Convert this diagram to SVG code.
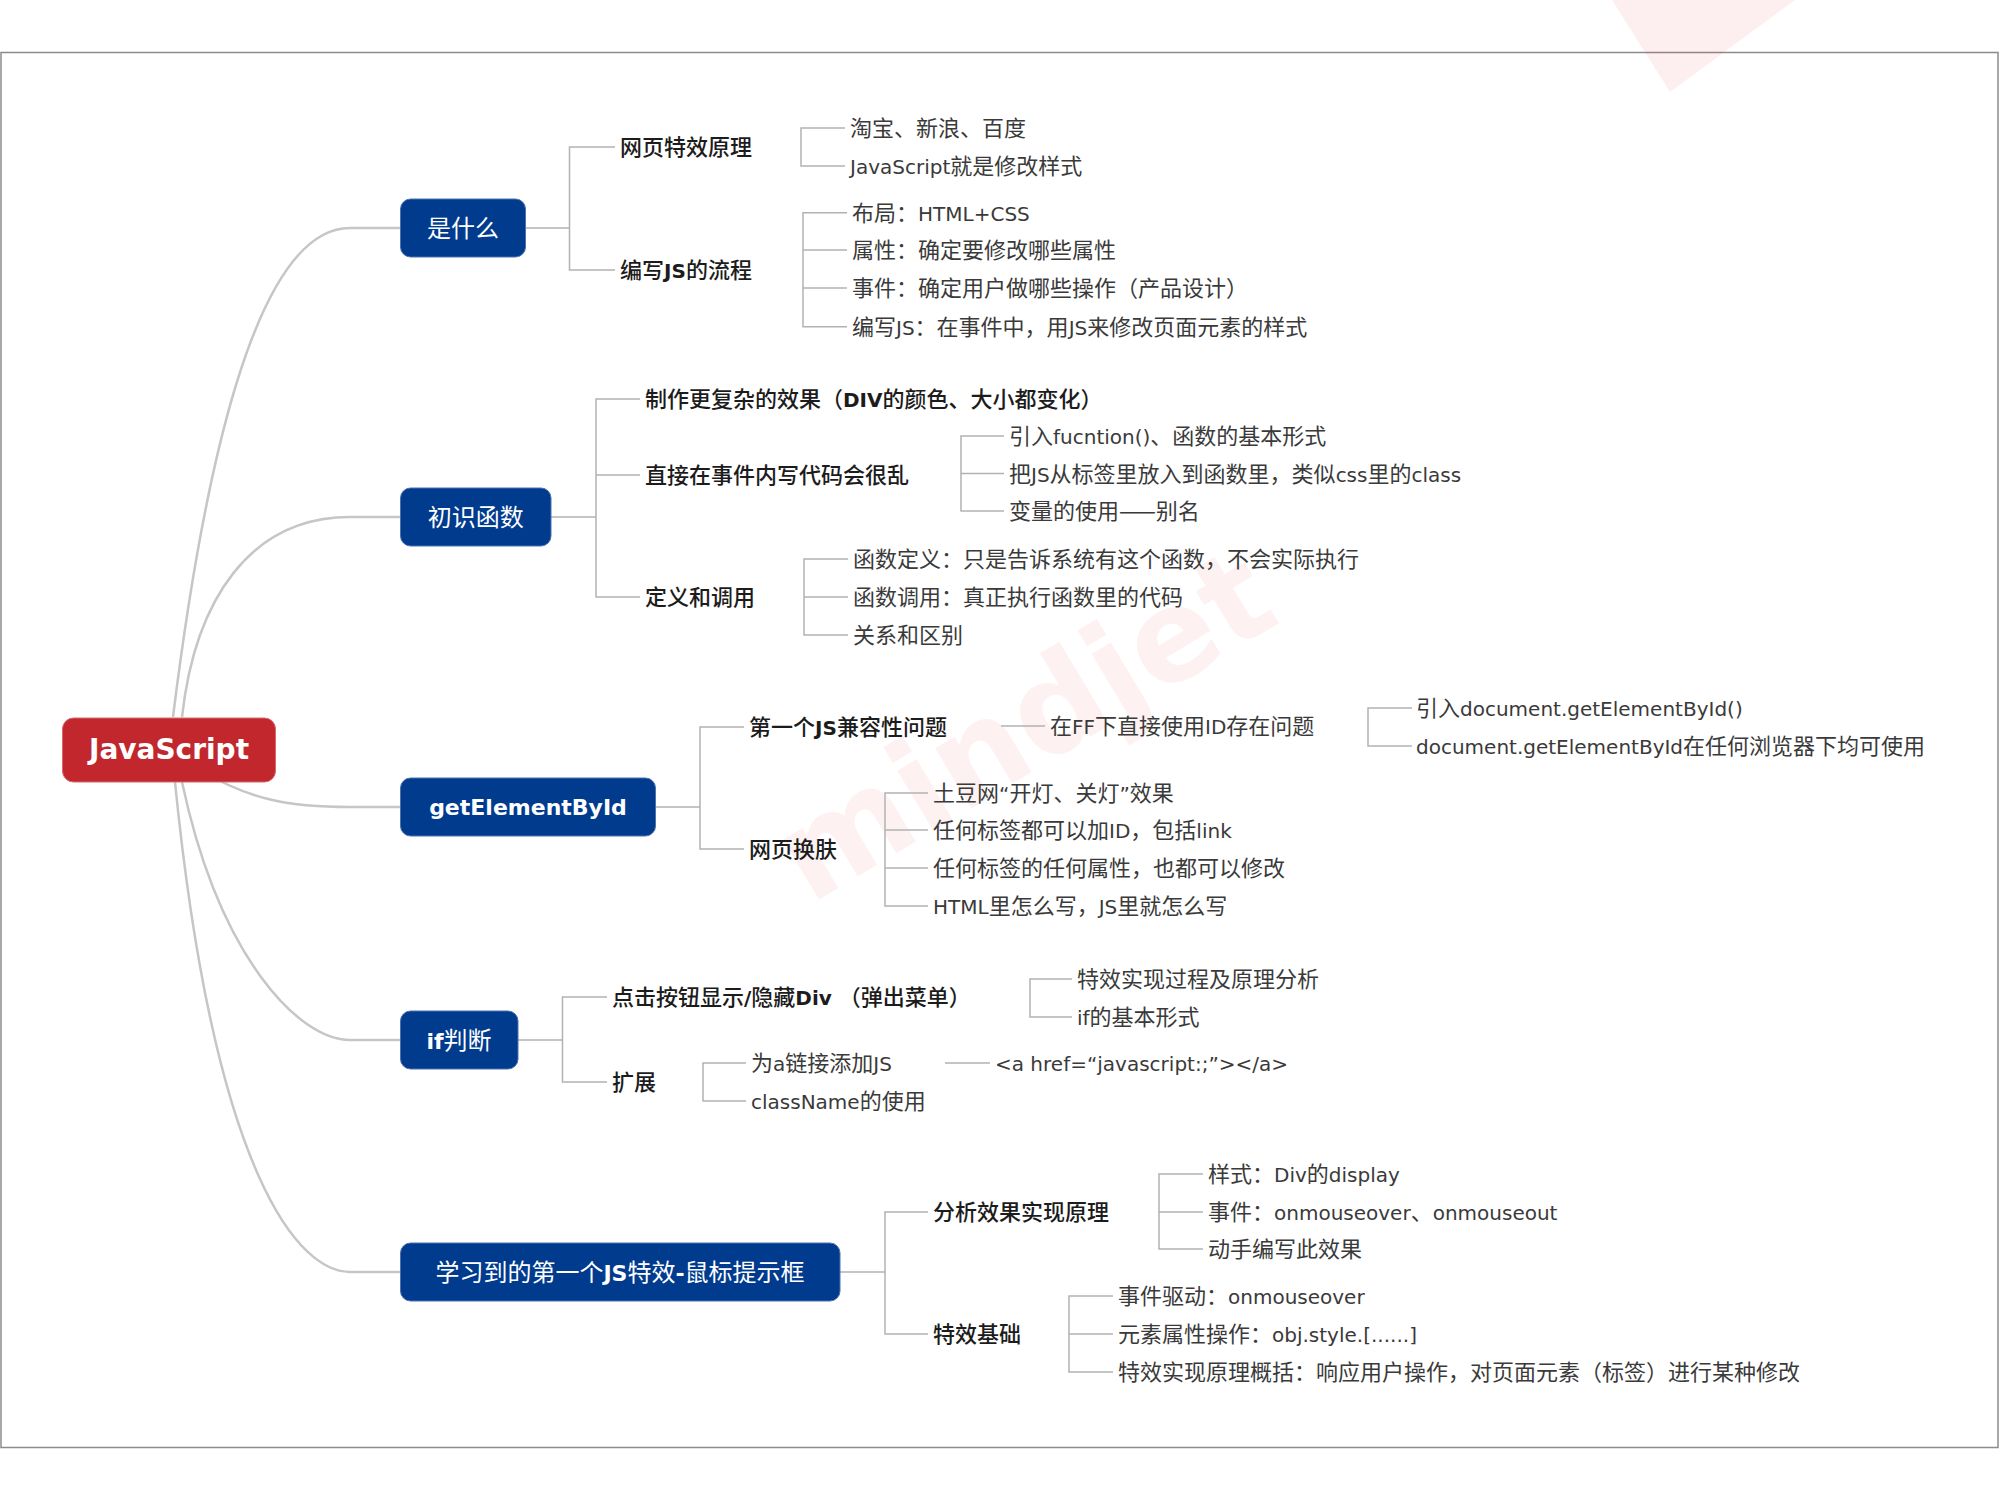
<svg xmlns="http://www.w3.org/2000/svg" width="2000" height="1500" viewBox="0 0 2000 1500">
<style>
.frame{fill:#ffffff;stroke:#8c8c8c;stroke-width:1.5}
.box{fill:#003B8E;stroke:#4d72b0;stroke-width:1}
.root{fill:#C1272D;stroke:#d86a6e;stroke-width:1}
.nt{font-family:"Noto Sans CJK SC",sans-serif;font-size:24px;fill:#ffffff;text-anchor:middle}
.nl{font-family:"DejaVu Sans",sans-serif;font-size:22px;font-weight:bold}
.rt{font-family:"DejaVu Sans",sans-serif;font-size:28px;font-weight:bold;fill:#ffffff;text-anchor:middle}
.t2{font-family:"Noto Sans CJK SC",sans-serif;font-size:22px;font-weight:500;fill:#1c1c1c}
.t3{font-family:"Noto Sans CJK SC",sans-serif;font-size:22px;fill:#3a3a3a}
.l{font-family:"DejaVu Sans",sans-serif;font-size:20px;font-weight:normal}
.lb{font-family:"DejaVu Sans",sans-serif;font-size:20px;font-weight:bold}
.curve{fill:none;stroke:#c6c6c6;stroke-width:2.5}
.br{fill:none;stroke:#b2b2b2;stroke-width:1.5}
.wm{font-family:"DejaVu Sans",sans-serif;font-weight:bold;fill:#e8232a;opacity:0.06}
</style>
<rect x="0" y="0" width="2000" height="1500" fill="#ffffff"/>
<rect class="frame" x="1" y="52.5" width="1997" height="1395"/>
<polygon points="1612,0 1795,0 1670,92" fill="#e8232a" opacity="0.07"/>
<text class="wm" font-size="128" transform="translate(810,905) rotate(-31)">mindjet</text>

<g id="connectors">
  <path class="curve" d="M173 717 C200 500 250 228 350 228 H400"/>
  <path class="curve" d="M182 717 C195 600 250 517 350 517 H400"/>
  <path class="curve" d="M200 770 C250 800 290 807 350 807 H400"/>
  <path class="curve" d="M182 782 C220 960 300 1040 350 1040 H400"/>
  <path class="curve" d="M175 782 C215 1180 300 1272 350 1272 H400"/>

  <path class="br" d="M525.5 228 H569.5 M615 147 H569.5 V270 H615"/>
  <path class="br" d="M845 128 H801 V166 H845"/>
  <path class="br" d="M847 212.7 H803 V326.7 H847 M803 250 H847 M803 288 H847"/>

  <path class="br" d="M551 517 H596 M640 399 H596 V597 H640 M596 475 H640"/>
  <path class="br" d="M1004 436 H961 V511 H1004 M961 473.5 H1004"/>
  <path class="br" d="M848 559 H804 V635 H848 M804 597 H848"/>

  <path class="br" d="M655.6 807 H700 M744 727 H700 V849 H744"/>
  <path class="br" d="M1001 726 H1045"/>
  <path class="br" d="M1412 708 H1368 V746 H1412"/>
  <path class="br" d="M928 793 H885 V906 H928 M885 830 H928 M885 868 H928"/>

  <path class="br" d="M518 1040 H562.5 M607 997 H562.5 V1082 H607"/>
  <path class="br" d="M1072 979 H1030 V1017 H1072"/>
  <path class="br" d="M746 1063 H703 V1101 H746"/>
  <path class="br" d="M945 1063 H990"/>

  <path class="br" d="M840 1272 H885 M928 1212 H885 V1334 H928"/>
  <path class="br" d="M1203 1174 H1159 V1249 H1203 M1159 1212 H1203"/>
  <path class="br" d="M1113 1296 H1069 V1372 H1113 M1069 1334 H1113"/>
</g>

<g id="node-root">
  <rect class="root" x="62.5" y="718" width="213" height="64" rx="11"/>
  <text class="rt" x="169" y="759">JavaScript</text>
</g>

<g id="node-shishenme">
  <rect class="box" x="400.5" y="199" width="125" height="58" rx="10"/>
  <text class="nt" x="463" y="237">是什么</text>
</g>
<g id="node-wangye-texiao">
  <text class="t2" x="620" y="155">网页特效原理</text>
</g>
<g id="node-bianxie-liucheng">
  <text class="t2" x="620" y="278">编写<tspan class="lb">JS</tspan>的流程</text>
</g>
<g id="node-taobao"><text class="t3" x="850" y="136">淘宝、新浪、百度</text></g>
<g id="node-xiugai"><text class="t3" x="850" y="174"><tspan class="l">JavaScript</tspan>就是修改样式</text></g>
<g id="node-buju"><text class="t3" x="852" y="220.7">布局：<tspan class="l">HTML+CSS</tspan></text></g>
<g id="node-shuxing"><text class="t3" x="852" y="258">属性：确定要修改哪些属性</text></g>
<g id="node-shijian"><text class="t3" x="852" y="296">事件：确定用户做哪些操作（产品设计）</text></g>
<g id="node-bianxiejs"><text class="t3" x="852" y="334.7">编写<tspan class="l">JS</tspan>：在事件中，用<tspan class="l">JS</tspan>来修改页面元素的样式</text></g>

<g id="node-chushi-hanshu">
  <rect class="box" x="400.5" y="488" width="150.5" height="58" rx="10"/>
  <text class="nt" x="475.7" y="526">初识函数</text>
</g>
<g id="node-zhizuo"><text class="t2" x="645" y="407">制作更复杂的效果（<tspan class="lb">DIV</tspan>的颜色、大小都变化）</text></g>
<g id="node-zhijie"><text class="t2" x="645" y="483">直接在事件内写代码会很乱</text></g>
<g id="node-dingyi-diaoyong"><text class="t2" x="645" y="605">定义和调用</text></g>
<g id="node-yinru-function"><text class="t3" x="1009" y="444">引入<tspan class="l">fucntion()</tspan>、函数的基本形式</text></g>
<g id="node-ba-js"><text class="t3" x="1009" y="481.5">把<tspan class="l">JS</tspan>从标签里放入到函数里，类似<tspan class="l">css</tspan>里的<tspan class="l">class</tspan></text></g>
<g id="node-bianliang"><text class="t3" x="1009" y="519">变量的使用——别名</text></g>
<g id="node-hanshu-dingyi"><text class="t3" x="853" y="567">函数定义：只是告诉系统有这个函数，不会实际执行</text></g>
<g id="node-hanshu-diaoyong"><text class="t3" x="853" y="605">函数调用：真正执行函数里的代码</text></g>
<g id="node-guanxi"><text class="t3" x="853" y="643">关系和区别</text></g>

<g id="node-getelementbyid">
  <rect class="box" x="400.5" y="778" width="255" height="58" rx="10"/>
  <text class="nt" x="528" y="815"><tspan class="nl">getElementById</tspan></text>
</g>
<g id="node-jianrong"><text class="t2" x="749" y="735">第一个<tspan class="lb">JS</tspan>兼容性问题</text></g>
<g id="node-huanfu"><text class="t2" x="749" y="857">网页换肤</text></g>
<g id="node-ff"><text class="t3" x="1050" y="734">在<tspan class="l">FF</tspan>下直接使用<tspan class="l">ID</tspan>存在问题</text></g>
<g id="node-yinru-doc"><text class="t3" x="1416" y="716">引入<tspan class="l">document.getElementById()</tspan></text></g>
<g id="node-doc-any"><text class="t3" x="1416" y="754"><tspan class="l">document.getElementById</tspan>在任何浏览器下均可使用</text></g>
<g id="node-tudou"><text class="t3" x="933" y="801">土豆网<tspan class="l">“</tspan>开灯、关灯<tspan class="l">”</tspan>效果</text></g>
<g id="node-renhe-id"><text class="t3" x="933" y="838">任何标签都可以加<tspan class="l">ID</tspan>，包括<tspan class="l">link</tspan></text></g>
<g id="node-renhe-shuxing"><text class="t3" x="933" y="876">任何标签的任何属性，也都可以修改</text></g>
<g id="node-html-js"><text class="t3" x="933" y="914"><tspan class="l">HTML</tspan>里怎么写，<tspan class="l">JS</tspan>里就怎么写</text></g>

<g id="node-if">
  <rect class="box" x="400.5" y="1011" width="117.5" height="58" rx="10"/>
  <text class="nt" x="459" y="1049"><tspan class="nl">if</tspan>判断</text>
</g>
<g id="node-dianji"><text class="t2" x="612" y="1005">点击按钮显示<tspan class="lb">/</tspan>隐藏<tspan class="lb">Div </tspan>（弹出菜单）</text></g>
<g id="node-kuozhan"><text class="t2" x="612" y="1090">扩展</text></g>
<g id="node-texiao-guocheng"><text class="t3" x="1077" y="987">特效实现过程及原理分析</text></g>
<g id="node-if-xingshi"><text class="t3" x="1077" y="1025"><tspan class="l">if</tspan>的基本形式</text></g>
<g id="node-a-js"><text class="t3" x="751" y="1071">为<tspan class="l">a</tspan>链接添加<tspan class="l">JS</tspan></text></g>
<g id="node-classname"><text class="t3" x="751" y="1109"><tspan class="l">className</tspan>的使用</text></g>
<g id="node-ahref"><text class="t3" x="995" y="1071"><tspan class="l">&lt;a href=“javascript:;”&gt;&lt;/a&gt;</tspan></text></g>

<g id="node-xuexi">
  <rect class="box" x="400.5" y="1243" width="439.5" height="58" rx="10"/>
  <text class="nt" x="620" y="1281">学习到的第一个<tspan class="nl">JS</tspan>特效<tspan class="nl">-</tspan>鼠标提示框</text>
</g>
<g id="node-fenxi"><text class="t2" x="933" y="1220">分析效果实现原理</text></g>
<g id="node-jichu"><text class="t2" x="933" y="1342">特效基础</text></g>
<g id="node-yangshi"><text class="t3" x="1208" y="1182">样式：<tspan class="l">Div</tspan>的<tspan class="l">display</tspan></text></g>
<g id="node-shijian-mouse"><text class="t3" x="1208" y="1220">事件：<tspan class="l">onmouseover</tspan>、<tspan class="l">onmouseout</tspan></text></g>
<g id="node-dongshou"><text class="t3" x="1208" y="1257">动手编写此效果</text></g>
<g id="node-qudong"><text class="t3" x="1118" y="1304">事件驱动：<tspan class="l">onmouseover</tspan></text></g>
<g id="node-yuansu"><text class="t3" x="1118" y="1342">元素属性操作：<tspan class="l">obj.style.[......]</tspan></text></g>
<g id="node-gaikuo"><text class="t3" x="1118" y="1380">特效实现原理概括：响应用户操作，对页面元素（标签）进行某种修改</text></g>
</svg>
